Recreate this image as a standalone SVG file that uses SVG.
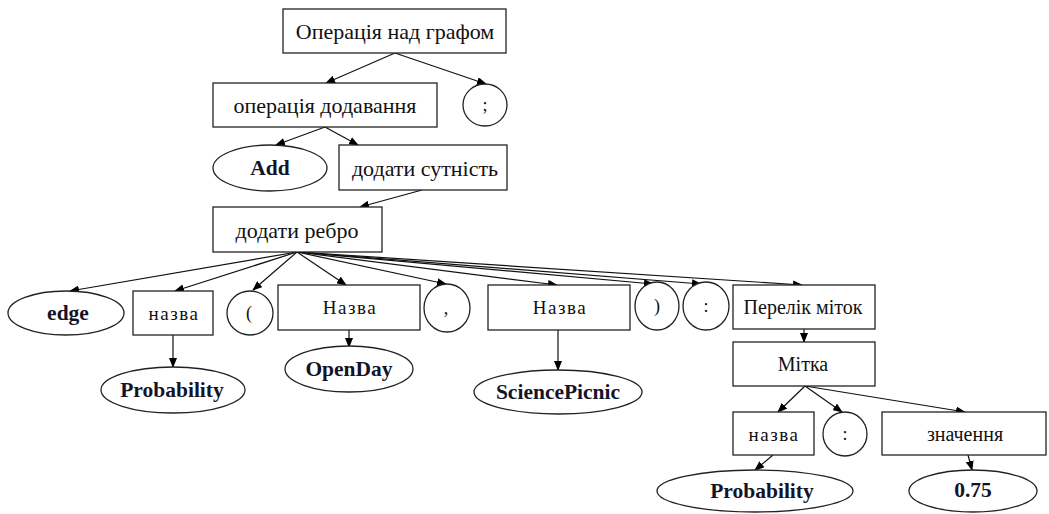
<svg xmlns="http://www.w3.org/2000/svg" width="1049" height="514" viewBox="0 0 1049 514">
<defs>
<marker id="ah" markerUnits="userSpaceOnUse" markerWidth="10" markerHeight="8" refX="9" refY="4" orient="auto">
<path d="M0,0 L10,4 L0,8 z" fill="#000"/>
</marker>
<style>
.box{fill:#fff;stroke:#222;stroke-width:1.3}
.t{font-family:"Liberation Serif","DejaVu Serif",serif;font-size:22px;fill:#111;text-anchor:middle;dominant-baseline:central}
.b{font-weight:bold;font-size:21.5px;fill:#141428}
.m{font-size:20px}
.s{font-size:18px}
.n{font-size:19px;letter-spacing:1.5px}
.c{stroke:#111;stroke-width:1.2;fill:none;marker-end:url(#ah)}
</style>
</defs>
<rect width="1049" height="514" fill="#fff"/>
<g id="connectors">
<line class="c" x1="395" y1="53" x2="326" y2="83"/>
<line class="c" x1="395" y1="53" x2="486" y2="84"/>
<line class="c" x1="325" y1="127" x2="276" y2="145"/>
<line class="c" x1="325" y1="127" x2="358" y2="145"/>
<line class="c" x1="422" y1="190" x2="360" y2="207"/>
<line class="c" x1="297" y1="252" x2="70" y2="291"/>
<line class="c" x1="297" y1="252" x2="175" y2="291"/>
<line class="c" x1="297" y1="252" x2="253" y2="290"/>
<line class="c" x1="297" y1="252" x2="346" y2="285"/>
<line class="c" x1="297" y1="252" x2="446" y2="284"/>
<line class="c" x1="297" y1="252" x2="557" y2="285"/>
<line class="c" x1="297" y1="252" x2="653" y2="284"/>
<line class="c" x1="297" y1="252" x2="701" y2="284"/>
<line class="c" x1="297" y1="252" x2="802" y2="285"/>
<line class="c" x1="173" y1="335" x2="173" y2="367"/>
<line class="c" x1="349" y1="330" x2="349" y2="347"/>
<line class="c" x1="558" y1="330" x2="558" y2="370"/>
<line class="c" x1="804" y1="329" x2="804" y2="342"/>
<line class="c" x1="805" y1="386" x2="778" y2="412"/>
<line class="c" x1="805" y1="386" x2="842" y2="412"/>
<line class="c" x1="805" y1="386" x2="965" y2="412"/>
<line class="c" x1="773" y1="455" x2="755" y2="470"/>
<line class="c" x1="968" y1="455" x2="972" y2="470"/>
</g>
<g id="n-op"><rect class="box" x="283" y="9" width="223" height="44"/><text class="t" x="395" y="31">Операція над графом</text></g>
<g id="n-semi"><ellipse class="box" cx="485" cy="105" rx="22" ry="21"/><text class="t s" x="485" y="105">;</text></g>
<g id="n-add-op"><rect class="box" x="213" y="83" width="224" height="44"/><text class="t" x="325" y="105">операція додавання</text></g>
<g id="n-add"><ellipse class="box" cx="270" cy="168" rx="57" ry="23"/><text class="t b" x="270" y="168">Add</text></g>
<g id="n-entity"><rect class="box" x="339" y="145" width="168" height="45"/><text class="t" x="425" y="168">додати сутність</text></g>
<g id="n-edge-add"><rect class="box" x="213" y="207" width="169" height="45"/><text class="t" x="297" y="230">додати ребро</text></g>
<g id="n-edge"><ellipse class="box" cx="66" cy="313" rx="58" ry="22"/><text class="t b" x="68" y="313">edge</text></g>
<g id="n-name1"><rect class="box" x="133" y="291" width="80" height="44"/><text class="t n" x="174" y="313">назва</text></g>
<g id="n-lpar"><ellipse class="box" cx="250" cy="313" rx="23" ry="22"/><text class="t s" x="249" y="313">(</text></g>
<g id="n-name2"><rect class="box" x="278" y="285" width="142" height="45"/><text class="t n" x="350" y="307">Назва</text></g>
<g id="n-comma"><ellipse class="box" cx="447" cy="308" rx="23" ry="24"/><text class="t s" x="446" y="308">,</text></g>
<g id="n-name3"><rect class="box" x="488" y="285" width="142" height="45"/><text class="t n" x="560" y="307">Назва</text></g>
<g id="n-rpar"><ellipse class="box" cx="657" cy="306" rx="22" ry="24"/><text class="t s" x="657" y="306">)</text></g>
<g id="n-colon1"><ellipse class="box" cx="706" cy="306" rx="23" ry="24"/><text class="t s" x="706" y="306">:</text></g>
<g id="n-labels"><rect class="box" x="733" y="285" width="142" height="44"/><text class="t m" x="803" y="307">Перелік міток</text></g>
<g id="n-prob1"><ellipse class="box" cx="173" cy="390" rx="72" ry="23"/><text class="t b" x="172" y="390">Probability</text></g>
<g id="n-openday"><ellipse class="box" cx="349" cy="369" rx="64" ry="23"/><text class="t b" x="349" y="369">OpenDay</text></g>
<g id="n-picnic"><ellipse class="box" cx="558" cy="392" rx="84" ry="22"/><text class="t b" x="558" y="392">SciencePicnic</text></g>
<g id="n-label"><rect class="box" x="733" y="342" width="142" height="44"/><text class="t m" x="803" y="364">Мітка</text></g>
<g id="n-name4"><rect class="box" x="733" y="412" width="81" height="43"/><text class="t n" x="774" y="434">назва</text></g>
<g id="n-colon2"><ellipse class="box" cx="845" cy="434" rx="22" ry="22"/><text class="t s" x="845" y="434">:</text></g>
<g id="n-value"><rect class="box" x="882" y="412" width="164" height="43"/><text class="t m" x="965" y="434">значення</text></g>
<g id="n-prob2"><ellipse class="box" cx="755" cy="491" rx="98" ry="21"/><text class="t b" x="762" y="491">Probability</text></g>
<g id="n-075"><ellipse class="box" cx="973" cy="491" rx="64" ry="21"/><text class="t b" x="973" y="490">0.75</text></g>
</svg>
